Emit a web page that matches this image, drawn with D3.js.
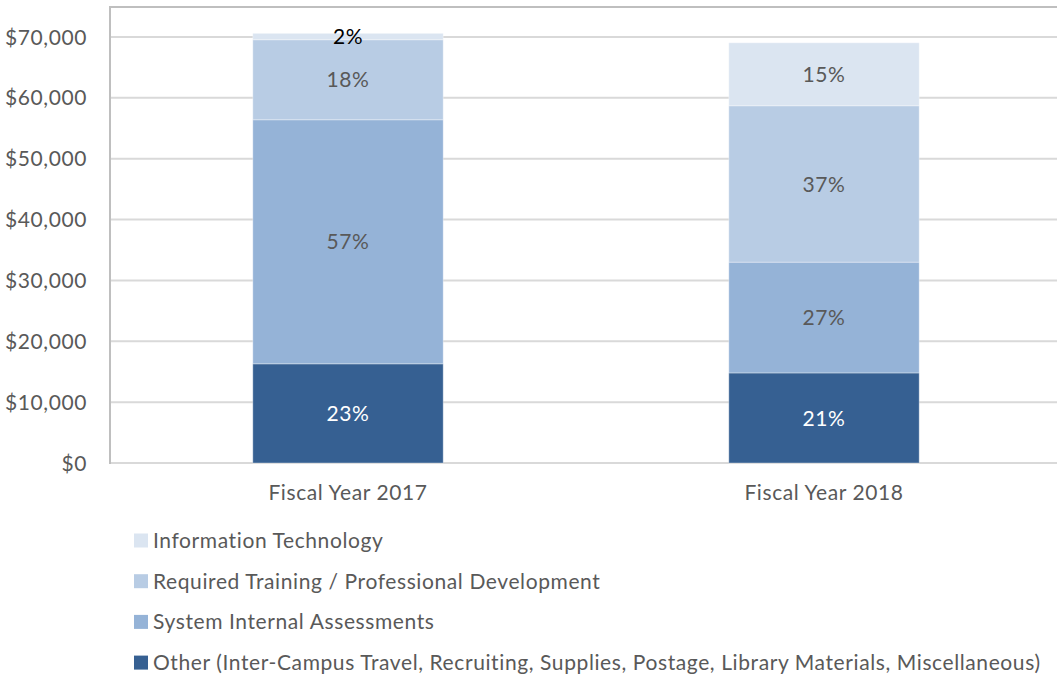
<!DOCTYPE html>
<html>
<head>
<meta charset="utf-8">
<script src="https://cdn.jsdelivr.net/npm/d3@7"></script>
<style>
  html, body { margin: 0; padding: 0; background: #fff; }
  svg text { font-family: Lato, "Noto Sans", sans-serif; font-size: 21px; letter-spacing: 0.6px; }
</style>
</head>
<body>
<div id="chart"></div>
<script>
// Chart data
const years = ['Fiscal Year 2017', 'Fiscal Year 2018']
const seriesNames = [
  'Other (Inter-Campus Travel, Recruiting, Supplies, Postage, Library Materials, Miscellaneous)',
  'System Internal Assessments',
  'Required Training / Professional Development',
  'Information Technology'
]
const otherValues = [16300, 14800]
const assessmentValues = [40100, 18200]
const trainingValues = [13150, 25700]
const itValues = [1050, 10350]
// percent labels as printed on the chart
const otherPct = [23, 21]
const assessmentPct = [57, 27]
const trainingPct = [18, 37]
const itPct = [2, 15]
const yTicks = [0, 10000, 20000, 30000, 40000, 50000, 60000, 70000]

const colors = ['#366092', '#95b3d7', '#b8cce4', '#dbe5f1']
// label colour per series, per bar (the tiny 2% label sits over the bar top in black)
const labelColors = [
  ['#ffffff', '#ffffff'],
  ['#595959', '#595959'],
  ['#595959', '#595959'],
  ['#000000', '#595959']
]

const width = 1057
const height = 679
const plot = { left: 110, right: 1062, top: 7, bottom: 463 }

const svg = d3.select('#chart')
  .append('svg')
  .attr('width', width)
  .attr('height', height)

const x = d3.scaleBand()
  .domain(years)
  .range([plot.left, plot.right])
  .paddingInner(0.6)
  .paddingOuter(0.3)

const y = d3.scaleLinear()
  .domain([0, 70000])
  .range([plot.bottom, 37])

// plot area border
svg.append('rect')
  .attr('x', plot.left)
  .attr('y', plot.top)
  .attr('width', plot.right - plot.left)
  .attr('height', plot.bottom - plot.top)
  .attr('fill', 'none')
  .attr('stroke', '#bfbfbf')
  .attr('stroke-width', 2)

// gridlines
svg.append('g')
  .selectAll('line')
  .data(yTicks)
  .join('line')
  .attr('x1', plot.left + 1)
  .attr('x2', plot.right)
  .attr('y1', d => y(d))
  .attr('y2', d => y(d))
  .attr('stroke', '#d9d9d9')
  .attr('stroke-width', 2)

// y axis labels
const fmt = d3.format(',')
svg.append('g')
  .selectAll('text')
  .data(yTicks)
  .join('text')
  .attr('x', 87)
  .attr('y', d => y(d))
  .attr('dy', '0.36em')
  .attr('text-anchor', 'end')
  .attr('fill', '#595959')
  .text(d => '$' + fmt(d))

// stacked data
const rows = years.map((yr, i) => ({
  year: yr,
  s0: otherValues[i],
  s1: assessmentValues[i],
  s2: trainingValues[i],
  s3: itValues[i]
}))
const pcts = [otherPct, assessmentPct, trainingPct, itPct]
const stack = d3.stack().keys(['s0', 's1', 's2', 's3'])(rows)

const layers = svg.append('g')
  .selectAll('g')
  .data(stack)
  .join('g')
  .attr('fill', (d, i) => colors[i])

layers.selectAll('rect')
  .data(d => d)
  .join('rect')
  .attr('x', d => x(d.data.year))
  .attr('width', x.bandwidth())
  .attr('y', d => y(d[1]))
  .attr('height', d => y(d[0]) - y(d[1]))
  .attr('stroke', '#ffffff')
  .attr('stroke-opacity', 0.35)
  .attr('stroke-width', 1)

// segment labels
stack.forEach((layer, li) => {
  svg.append('g')
    .selectAll('text')
    .data(layer)
    .join('text')
    .attr('x', d => x(d.data.year) + x.bandwidth() / 2)
    .attr('y', d => (y(d[0]) + y(d[1])) / 2)
    .attr('dy', '0.36em')
    .attr('text-anchor', 'middle')
    .attr('fill', (d, i) => labelColors[li][i])
    .text((d, i) => pcts[li][i] + '%')
})

// x axis labels
svg.append('g')
  .selectAll('text')
  .data(years)
  .join('text')
  .attr('x', d => x(d) + x.bandwidth() / 2)
  .attr('y', 500)
  .attr('text-anchor', 'middle')
  .attr('fill', '#595959')
  .text(d => d)

// legend (top entry = last series)
const legendItems = seriesNames.map((name, i) => ({ name, color: colors[i] })).reverse()
const legend = svg.append('g')
  .selectAll('g')
  .data(legendItems)
  .join('g')
  .attr('transform', (d, i) => `translate(134, ${540.5 + i * 40.7})`)

legend.append('rect')
  .attr('x', 0)
  .attr('y', -7)
  .attr('width', 14)
  .attr('height', 14)
  .attr('fill', d => d.color)

legend.append('text')
  .attr('x', 19)
  .attr('y', 0)
  .attr('dy', '0.36em')
  .attr('fill', '#595959')
  .text(d => d.name)
</script>
</body>
</html>
